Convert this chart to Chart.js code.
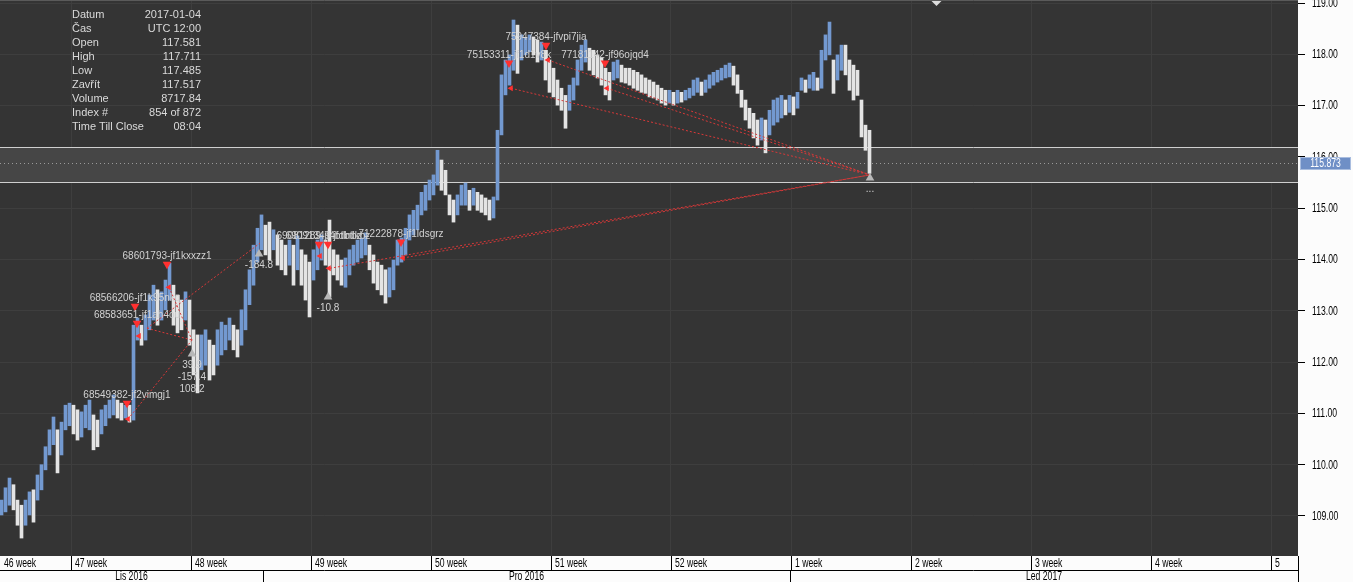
<!DOCTYPE html>
<html>
<head>
<meta charset="utf-8">
<script src="https://cdn.jsdelivr.net/npm/chart.js@4.4.0/dist/chart.umd.min.js"></script>
<style>
html, body { margin: 0; padding: 0; background: #fcfcfc; overflow: hidden; }
canvas { display: block; }
</style>
</head>
<body>
<canvas id="chart" width="1353" height="582"></canvas>
<script>
// aggregated price bars (each one = 4 hourly bars), high and low
var highs = [
    109.31,109.55,109.74,109.61,109.31,109.21,109.31,109.47,109.51,109.80,
    110.00,110.35,110.68,110.93,110.68,110.83,111.16,111.20,111.16,111.07,
    111.03,111.16,111.26,110.97,110.87,111.07,111.16,111.26,111.36,111.26,
    111.20,111.16,111.16,112.72,112.86,112.72,112.92,113.31,113.50,113.41,
    113.37,113.60,113.93,113.50,113.31,113.21,113.37,113.21,112.63,112.53,
    112.53,112.63,112.43,112.33,112.63,112.78,112.72,112.86,112.72,112.63,
    113.02,113.41,113.80,114.28,114.61,114.87,114.67,114.73,114.58,114.48,
    114.38,114.28,114.38,114.28,114.46,114.19,114.09,113.95,114.19,114.38,
    114.48,114.38,114.77,114.19,114.09,113.99,114.03,114.19,114.28,114.38,
    114.42,114.52,114.28,114.09,113.95,113.89,113.80,113.84,113.99,114.38,
    114.42,114.61,114.87,114.96,115.06,115.31,115.45,115.55,115.65,116.13,
    115.94,115.74,115.26,115.16,115.26,115.45,115.49,115.35,115.39,115.31,
    115.26,115.20,115.16,115.22,116.52,117.60,117.89,117.99,118.67,118.57,
    118.38,118.32,118.38,118.34,118.28,118.24,118.08,117.89,117.73,117.50,
    117.34,117.20,117.40,117.54,117.89,118.18,118.28,118.12,118.08,117.99,
    117.93,117.73,117.65,117.85,117.89,117.79,117.73,117.73,117.69,117.65,
    117.60,117.54,117.50,117.46,117.40,117.34,117.30,117.30,117.26,117.30,
    117.26,117.30,117.34,117.50,117.54,117.46,117.50,117.60,117.65,117.69,
    117.73,117.79,117.83,117.77,117.60,117.30,117.11,116.95,116.85,116.72,
    116.76,116.72,116.91,117.11,117.15,117.20,117.11,117.20,117.17,117.26,
    117.54,117.50,117.60,117.65,117.54,118.08,118.38,118.63,117.89,117.99,
    118.18,118.18,117.89,117.79,117.69,117.11,116.62,116.52
];
var lows = [
    109.02,109.08,109.21,109.12,108.82,108.57,108.82,109.02,108.88,109.31,
    109.51,109.90,110.19,110.39,109.84,110.19,110.68,110.76,110.60,110.48,
    110.54,110.72,110.68,110.29,110.35,110.60,110.76,110.91,110.97,110.91,
    110.87,110.91,110.83,110.87,112.43,112.33,112.43,112.63,112.82,112.72,
    112.82,113.02,113.21,112.72,112.57,112.63,112.82,112.33,111.75,111.40,
    111.85,111.94,111.65,111.75,111.94,112.14,112.24,112.43,112.24,112.10,
    112.33,112.63,113.12,113.50,113.95,114.19,114.09,113.99,114.19,113.89,
    113.80,113.70,113.89,113.50,113.80,113.50,113.21,112.88,113.60,113.80,
    113.99,113.89,113.27,113.70,113.60,113.50,113.46,113.70,113.89,113.95,
    114.03,114.09,113.80,113.54,113.41,113.31,113.15,113.27,113.41,113.89,
    113.95,114.09,114.38,114.48,114.58,114.87,114.96,115.16,115.26,115.45,
    115.35,115.26,114.87,114.73,114.87,115.06,115.06,114.96,115.06,114.96,
    114.92,114.87,114.77,114.81,115.16,116.43,117.21,117.40,117.69,117.63,
    117.89,117.99,118.05,117.99,117.85,117.89,117.50,117.26,117.17,117.01,
    116.91,116.56,116.91,117.11,117.40,117.69,117.85,117.69,117.60,117.54,
    117.40,117.21,117.11,117.50,117.54,117.46,117.44,117.40,117.34,117.30,
    117.26,117.24,117.17,117.15,117.11,117.05,117.01,117.05,117.01,117.05,
    117.07,117.11,117.15,117.20,117.26,117.20,117.26,117.34,117.40,117.46,
    117.50,117.54,117.56,117.40,117.24,116.97,116.72,116.56,116.37,116.23,
    116.33,116.08,116.43,116.62,116.68,116.76,116.82,116.87,116.82,116.95,
    117.30,117.26,117.34,117.30,117.30,117.34,117.89,117.99,117.24,117.50,
    117.69,117.60,117.30,117.11,117.20,116.39,116.13,115.68
];

// x axis is in trading hours, 120 per week
var weekStarts = [-49, 71, 191, 311, 431, 551, 671, 791, 911, 1031, 1151, 1271];
var weekLabels = ['46 week', '47 week', '48 week', '49 week', '50 week', '51 week',
                  '52 week', '1 week', '2 week', '3 week', '4 week', '5 week'];
var monthStarts = [263, 790];
var monthLabels = ['Lis 2016', 'Pro 2016', 'Led 2017'];
var priceTicks = [109, 110, 111, 112, 113, 114, 115, 116, 117, 118, 119];

// trade signals
var entryX = [127, 135, 137, 167, 319, 328, 401, 509, 546, 605];
var entryPrice = [111.20, 113.09, 112.76, 113.91, 114.30, 114.30, 114.34, 117.83, 118.18, 117.83];
var entryNames = ['68549382-jf2vimgj1', '68566206-jf1k95nkq', '68583651-jf1ah4ou', '68601793-jf1kxxzz1',
                  '69081289-jf4btlnbz', '69091349-jfdbtlkbz', '71222878-jf1ldsgrz',
                  '75153311-jf1d1v8k', '75947384-jfvpi7jia', '77181142-jf96ojqd4'];
var exitX = [128, 139, 169, 320, 329, 403, 511, 548, 607];
var exitPrice = [110.89, 112.51, 113.46, 114.07, 113.83, 114.03, 117.34, 117.89, 117.34];
var links = [
    [128, 110.89, 192, 112.43],
    [147, 112.66, 192, 112.43],
    [169, 113.46, 192, 112.43],
    [147, 112.66, 260, 114.32],
    [330, 113.83, 870, 115.65],
    [403, 114.03, 870, 115.65],
    [511, 117.34, 870, 115.65],
    [548, 117.89, 870, 115.65],
    [607, 117.34, 870, 115.65]
];
var statX = [192, 259, 328, 870];
var statPrice = [112.16, 114.11, 113.27, 115.59];
var statText = [['39.9', '-157.4', '108.2'], ['-184.8'], ['-10.8'], ['...']];

var bandHigh = 116.19;
var bandLow = 115.51;
var lastPrice = 115.873;
var timeMarker = 936;

var infoLabels = ['Datum', 'Čas', 'Open', 'High', 'Low', 'Zavřít', 'Volume', 'Index #', 'Time Till Close'];
var infoValues = ['2017-01-04', 'UTC 12:00', '117.581', '117.711', '117.485', '117.517', '8717.84', '854 of 872', '08:04'];

var sans = "'Liberation Sans', Arial, sans-serif";

var bars = highs.map(function (h, i) {
    return {x: i * 4 + 1.5, y: [lows[i], h]};
});
var barColors = highs.map(function (h, i) {
    if (i == 0) return '#7399d0';
    return (h + lows[i]) >= (highs[i - 1] + lows[i - 1]) ? '#7399d0' : '#e4e4e4';
});

var datasets = [{
    type: 'bar',
    data: bars,
    backgroundColor: barColors,
    borderWidth: 0,
    barThickness: 3,
    grouped: false,
    order: 3
}];
links.forEach(function (l) {
    datasets.push({
        type: 'line',
        data: [{x: l[0], y: l[1]}, {x: l[2], y: l[3]}],
        borderColor: '#d83838',
        borderWidth: 1,
        borderDash: [2, 2],
        pointRadius: 0,
        order: 2
    });
});
datasets.push({
    type: 'scatter',
    data: entryX.map(function (x, i) { return {x: x, y: entryPrice[i]}; }),
    pointStyle: 'triangle',
    rotation: 180,
    radius: 5,
    backgroundColor: '#ff3030',
    borderWidth: 0,
    order: 1
});
datasets.push({
    type: 'scatter',
    data: exitX.map(function (x, i) { return {x: x, y: exitPrice[i]}; }),
    pointStyle: 'triangle',
    rotation: 270,
    radius: 3.5,
    backgroundColor: '#ff3030',
    borderWidth: 0,
    order: 1
});
datasets.push({
    type: 'scatter',
    data: statX.map(function (x, i) { return {x: x, y: statPrice[i]}; }),
    pointStyle: 'triangle',
    rotation: 0,
    radius: 5,
    backgroundColor: '#b8b8b8',
    borderWidth: 0,
    order: 1
});

// condensed text: the axis font of the original is narrow
function narrowText(c, t, x, y, align) {
    var w = c.measureText(t).width * 0.72;
    var sx = align == 'center' ? x - w / 2 : x;
    c.save();
    c.translate(sx, y);
    c.scale(0.72, 1);
    c.textAlign = 'left';
    c.fillText(t, 0, 0);
    c.restore();
}

var frame = {
    id: 'frame',
    beforeDraw: function (chart) {
        var c = chart.ctx, a = chart.chartArea;
        c.save();
        c.fillStyle = '#fcfcfc';
        c.fillRect(0, 0, chart.width, chart.height);
        c.fillStyle = '#343434';
        c.fillRect(a.left, a.top, a.right - a.left, a.bottom - a.top);
        c.restore();
    },
    beforeDatasetsDraw: function (chart) {
        var c = chart.ctx, a = chart.chartArea, ys = chart.scales.y;
        var y1 = Math.round(ys.getPixelForValue(bandHigh)) + 0.5;
        var y2 = Math.round(ys.getPixelForValue(bandLow)) + 0.5;
        var yl = Math.round(ys.getPixelForValue(lastPrice)) + 0.5;
        c.save();
        c.fillStyle = '#464646';
        c.fillRect(a.left, y1, a.right - a.left, y2 - y1);
        c.strokeStyle = '#cfcfcf';
        c.lineWidth = 1;
        c.beginPath();
        c.moveTo(a.left, y1); c.lineTo(a.right, y1);
        c.moveTo(a.left, y2); c.lineTo(a.right, y2);
        c.stroke();
        c.strokeStyle = '#9a9a9a';
        c.setLineDash([1, 3]);
        c.beginPath();
        c.moveTo(a.left, yl); c.lineTo(a.right, yl);
        c.stroke();
        c.setLineDash([]);
        c.strokeStyle = '#5a5a5a';
        c.beginPath();
        c.moveTo(a.left, a.top + 0.5); c.lineTo(a.right, a.top + 0.5);
        c.stroke();
        c.restore();
    },
    afterDatasetsDraw: function (chart) {
        var c = chart.ctx, xs = chart.scales.x, ys = chart.scales.y;
        c.save();
        c.font = '10px ' + sans;
        c.fillStyle = '#d2d2d2';
        c.textAlign = 'center';
        c.textBaseline = 'middle';
        entryNames.forEach(function (n, i) {
            c.fillText(n, xs.getPixelForValue(entryX[i]), ys.getPixelForValue(entryPrice[i]) - 8);
        });
        statText.forEach(function (lines, i) {
            lines.forEach(function (t, j) {
                c.fillText(t, xs.getPixelForValue(statX[i]), ys.getPixelForValue(statPrice[i]) + 11 + j * 12);
            });
        });
        c.font = '11px ' + sans;
        c.fillStyle = '#dadada';
        infoLabels.forEach(function (l, i) {
            c.textAlign = 'left';
            c.fillText(l, 72, 15 + i * 14);
            c.textAlign = 'right';
            c.fillText(infoValues[i], 201, 15 + i * 14);
        });
        // time marker on top edge
        var tx = Math.round(xs.getPixelForValue(timeMarker)) + 0.5;
        c.fillStyle = '#dcdcdc';
        c.beginPath();
        c.moveTo(tx - 5, 1); c.lineTo(tx + 5, 1); c.lineTo(tx, 6);
        c.closePath();
        c.fill();
        c.restore();
    },
    afterDraw: function (chart) {
        var c = chart.ctx, a = chart.chartArea, xs = chart.scales.x, ys = chart.scales.y;
        var b = a.bottom;
        c.save();
        c.fillStyle = '#fcfcfc';
        c.fillRect(a.left, b, a.right - a.left, chart.height - b);
        c.strokeStyle = '#000';
        c.lineWidth = 1;
        c.beginPath();
        c.moveTo(a.left, b + 14.5); c.lineTo(a.right, b + 14.5);
        weekStarts.forEach(function (v) {
            var px = Math.round(xs.getPixelForValue(v)) + 0.5;
            if (px > a.left && px < a.right) {
                c.moveTo(px, b); c.lineTo(px, b + 14);
            }
        });
        monthStarts.forEach(function (v) {
            var px = Math.round(xs.getPixelForValue(v)) + 0.5;
            c.moveTo(px, b + 14); c.lineTo(px, chart.height);
        });
        c.moveTo(a.right + 0.5, b); c.lineTo(a.right + 0.5, chart.height);
        c.stroke();

        c.font = '12px ' + sans;
        c.fillStyle = '#000';
        c.textBaseline = 'middle';
        weekStarts.forEach(function (v, i) {
            var px = Math.max(xs.getPixelForValue(v) + 4, a.left + 4);
            var t = weekLabels[i];
            if (px + c.measureText(t).width * 0.72 > a.right - 2) t = t.split(' ')[0];
            narrowText(c, t, px, b + 8, 'left');
        });
        var edges = [a.left].concat(monthStarts.map(function (v) { return xs.getPixelForValue(v); }), [a.right]);
        monthLabels.forEach(function (m, i) {
            narrowText(c, m, (edges[i] + edges[i + 1]) / 2, b + 20.5, 'center');
        });

        // price axis labels
        priceTicks.forEach(function (v) {
            narrowText(c, v.toFixed(2), a.right + 14, ys.getPixelForValue(v) + 0.5, 'left');
        });

        // last price box on the price axis
        var yl = Math.round(ys.getPixelForValue(lastPrice));
        c.fillStyle = '#6f8fc6';
        c.fillRect(a.right + 2, yl - 6, chart.width - a.right - 4, 13);
        c.strokeStyle = '#a9bddf';
        c.strokeRect(a.right + 2.5, yl - 5.5, chart.width - a.right - 5, 12);
        c.fillStyle = '#ffffff';
        narrowText(c, lastPrice.toFixed(3), (a.right + chart.width) / 2, yl + 0.5, 'center');
        c.restore();
    }
};

new Chart(document.getElementById('chart'), {
    type: 'bar',
    data: {datasets: datasets},
    options: {
        responsive: false,
        animation: false,
        events: [],
        layout: {padding: 0, autoPadding: false},
        plugins: {
            legend: {display: false},
            tooltip: {enabled: false}
        },
        scales: {
            x: {
                type: 'linear',
                min: 0,
                max: 1298,
                offset: false,
                grid: {color: '#3e3e3e', drawTicks: false, offset: false},
                border: {display: false},
                ticks: {display: false},
                afterBuildTicks: function (s) {
                    s.ticks = weekStarts.filter(function (v) { return v > 0; }).map(function (v) { return {value: v}; });
                },
                afterFit: function (s) {
                    s.height = 26;
                    s.paddingLeft = 0; s.paddingRight = 0;
                    s.paddingTop = 0; s.paddingBottom = 0;
                }
            },
            y: {
                position: 'right',
                min: 108.22,
                max: 119.06,
                grid: {color: '#3e3e3e', tickColor: '#000', tickLength: 7},
                border: {display: false},
                ticks: {display: false},
                afterBuildTicks: function (s) {
                    s.ticks = priceTicks.map(function (v) { return {value: v}; });
                },
                afterFit: function (s) {
                    s.width = 55;
                    s.paddingLeft = 0; s.paddingRight = 0;
                    s.paddingTop = 0; s.paddingBottom = 0;
                }
            }
        }
    },
    plugins: [frame]
});
</script>
</body>
</html>
